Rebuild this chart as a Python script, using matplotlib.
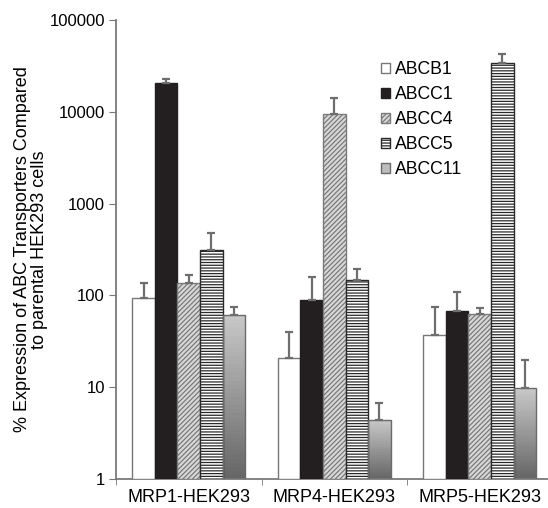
import matplotlib
matplotlib.use("Agg")
import matplotlib.pyplot as plt
import numpy as np
from matplotlib.patches import Patch

plt.rcParams['font.family'] = ['Liberation Sans', 'DejaVu Sans']
plt.rcParams['font.size'] = 12
plt.rcParams['hatch.linewidth'] = 0.9

# data (log scale)
cell_lines = ["MRP1-HEK293", "MRP4-HEK293", "MRP5-HEK293"]
transporters = ["ABCB1", "ABCC1", "ABCC4", "ABCC5", "ABCC11"]
means = {
    "ABCB1": [93, 21, 37],
    "ABCC1": [20600, 90, 67],
    "ABCC4": [138, 9500, 62],
    "ABCC5": [316, 146, 34000],
    "ABCC11": [61, 4.4, 9.7],
}
upper = {
    "ABCB1": [135, 40, 74],
    "ABCC1": [23000, 157, 110],
    "ABCC4": [168, 14200, 72],
    "ABCC5": [480, 196, 43000],
    "ABCC11": [74, 6.7, 20],
}

styles = {
    "ABCB1": dict(facecolor="white", edgecolor="#777777", hatch=None),
    "ABCC1": dict(facecolor="#231f20", edgecolor="#231f20", hatch=None),
    "ABCC4": dict(facecolor="#d8d8d8", edgecolor="#7a7a7a", hatch="///////"),
    "ABCC5": dict(facecolor="white", edgecolor="#2a2a2a", hatch="------"),
    "ABCC11": dict(facecolor="none", edgecolor="#6a6a6a", hatch=None),
}

fig = plt.figure(figsize=(5.48, 5.08), dpi=100)
ax = fig.add_axes([116 / 548, 29 / 508, 436.5 / 548, 459 / 508])

x = np.arange(len(cell_lines))
width = 0.155

for i, name in enumerate(transporters):
    pos = x + (i - 2) * width
    vals = np.array(means[name], dtype=float)
    st = styles[name]
    if name == "ABCC11":
        # grey gradient: light at top, dark at bottom
        n = 40
        for p, v in zip(pos, vals):
            edges = np.logspace(0, np.log10(v), n + 1)
            for k in range(n):
                t = k / (n - 1)
                g = 0.40 + 0.38 * t
                ax.bar(p, edges[k + 1] - edges[k], width, bottom=edges[k],
                       color=(g, g, g), linewidth=0, zorder=2)
    ax.bar(pos, vals - 1, width, bottom=1, facecolor=st["facecolor"],
           edgecolor=st["edgecolor"], hatch=st["hatch"], linewidth=1.0, zorder=3)
    err = np.array(upper[name]) - vals
    ax.errorbar(pos, vals, yerr=[np.zeros_like(err), err], fmt="none",
                ecolor="#6e6e6e", elinewidth=1.6, capsize=3, capthick=1.6, zorder=4)

ax.set_yscale("log")
ax.set_ylim(1, 100000)
ax.set_yticks([1, 10, 100, 1000, 10000, 100000])
ax.set_yticklabels(["1", "10", "100", "1000", "10000", "100000"])
ax.yaxis.set_minor_locator(matplotlib.ticker.NullLocator())
ax.set_xlim(-0.5, 2.5)
ax.set_xticks(x)
ax.set_xticklabels(cell_lines, fontsize=13)
ax.set_xticks([-0.5, 0.5, 1.5, 2.5], minor=True)
ax.tick_params(axis="x", which="major", length=0, pad=7)
ax.tick_params(axis="x", which="minor", length=4, color="#777777", direction="out")
ax.tick_params(axis="y", length=5, color="#777777", pad=3, labelsize=12)

for s in ["top", "right"]:
    ax.spines[s].set_visible(False)
for s in ["left", "bottom"]:
    ax.spines[s].set_color("#7a7a7a")
    ax.spines[s].set_linewidth(1.3)

ax.set_ylabel("% Expression of ABC Transporters Compared\nto parental HEK293 cells",
              fontsize=13, linespacing=1.0, labelpad=1)

handles = []
for name in transporters:
    st = styles[name]
    fc = "#bdbdbd" if name == "ABCC11" else st["facecolor"]
    handles.append(Patch(facecolor=fc, edgecolor=st["edgecolor"], hatch=st["hatch"],
                         linewidth=1.0, label=name))
ax.legend(handles=handles, loc="upper left", bbox_to_anchor=(0.608, 0.91),
          frameon=False, borderaxespad=0, borderpad=0, handlelength=0.5,
          handleheight=0.5, handletextpad=0.25, labelspacing=0.45, fontsize=12.7)

plt.savefig("out.png", dpi=100)
